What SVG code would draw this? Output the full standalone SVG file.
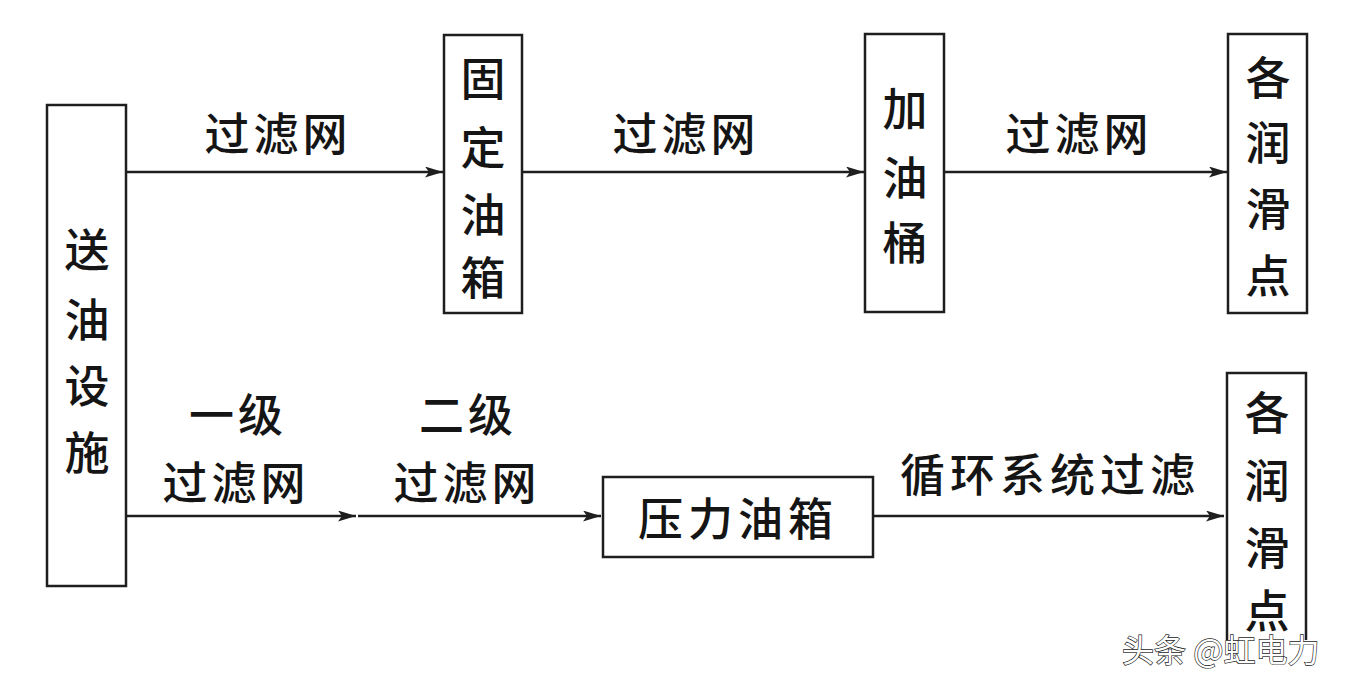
<svg xmlns="http://www.w3.org/2000/svg" width="1356" height="686" viewBox="0 0 1356 686">
<style>
.box{fill:#fff;stroke:#1e1e1e;stroke-width:2.5}
.t{font-family:"Noto Sans CJK SC","Noto Sans",sans-serif;font-size:45px;font-weight:500;fill:#151515;text-anchor:middle;dominant-baseline:central}
.l{stroke:#1e1e1e;stroke-width:2.5;fill:none;marker-end:url(#ah)}
.wm{font-family:"Noto Sans CJK SC","Noto Sans",sans-serif;font-size:32px;fill:#fff;stroke:#1a1a1a;stroke-width:1.3;paint-order:stroke}
</style>
<defs>
<marker id="ah" viewBox="0 0 18 11" refX="18" refY="5.5" markerWidth="18" markerHeight="11" markerUnits="userSpaceOnUse" orient="auto">
<path d="M0,0 L18,5.5 L0,11 L4,5.5 Z" fill="#1e1e1e"/>
</marker>
</defs>
<rect width="1356" height="686" fill="#fff"/>
<g id="connectors">
<path class="l" d="M126,172 H443"/>
<path class="l" d="M522,172 H864"/>
<path class="l" d="M944,172 H1227"/>
<path class="l" d="M126,516 H356"/>
<path class="l" d="M358,516 H601"/>
<path class="l" d="M873,516 H1224"/>
<text class="t" x="278" y="131" letter-spacing="4">过滤网</text>
<text class="t" x="686" y="131" letter-spacing="4">过滤网</text>
<text class="t" x="1079" y="131" letter-spacing="4">过滤网</text>
<text class="t" x="238" y="412" letter-spacing="4">一级</text>
<text class="t" x="236" y="480" letter-spacing="4">过滤网</text>
<text class="t" x="468" y="412" letter-spacing="4">二级</text>
<text class="t" x="467" y="480" letter-spacing="4">过滤网</text>
<text class="t" x="1050" y="472" letter-spacing="5">循环系统过滤</text>
</g>
<g id="songyou">
<rect class="box" x="47" y="105" width="79" height="481"/>
<text class="t" x="87" y="247">送</text>
<text class="t" x="87" y="317">油</text>
<text class="t" x="87" y="383">设</text>
<text class="t" x="87" y="450">施</text>
</g>
<g id="guding">
<rect class="box" x="444" y="35" width="78" height="278"/>
<text class="t" x="483" y="76">固</text>
<text class="t" x="483" y="145">定</text>
<text class="t" x="483" y="212">油</text>
<text class="t" x="483" y="275">箱</text>
</g>
<g id="jiayou">
<rect class="box" x="865" y="34" width="79" height="278"/>
<text class="t" x="905" y="106">加</text>
<text class="t" x="905" y="175">油</text>
<text class="t" x="905" y="240">桶</text>
</g>
<g id="runhua1">
<rect class="box" x="1228" y="34" width="79" height="279"/>
<text class="t" x="1268" y="75">各</text>
<text class="t" x="1268" y="140">润</text>
<text class="t" x="1268" y="206">滑</text>
<text class="t" x="1268" y="273">点</text>
</g>
<g id="yali">
<rect class="box" x="603" y="477" width="270" height="80"/>
<text class="t" x="738" y="516" letter-spacing="5">压力油箱</text>
</g>
<g id="runhua2">
<path class="box" d="M1227,640 V373 H1306 V640"/>
<text class="t" x="1267" y="410">各</text>
<text class="t" x="1267" y="478">润</text>
<text class="t" x="1267" y="545">滑</text>
<text class="t" x="1267" y="608">点</text>
</g>
<text class="wm" x="1122" y="662">头条 @虹电力</text>
</svg>
